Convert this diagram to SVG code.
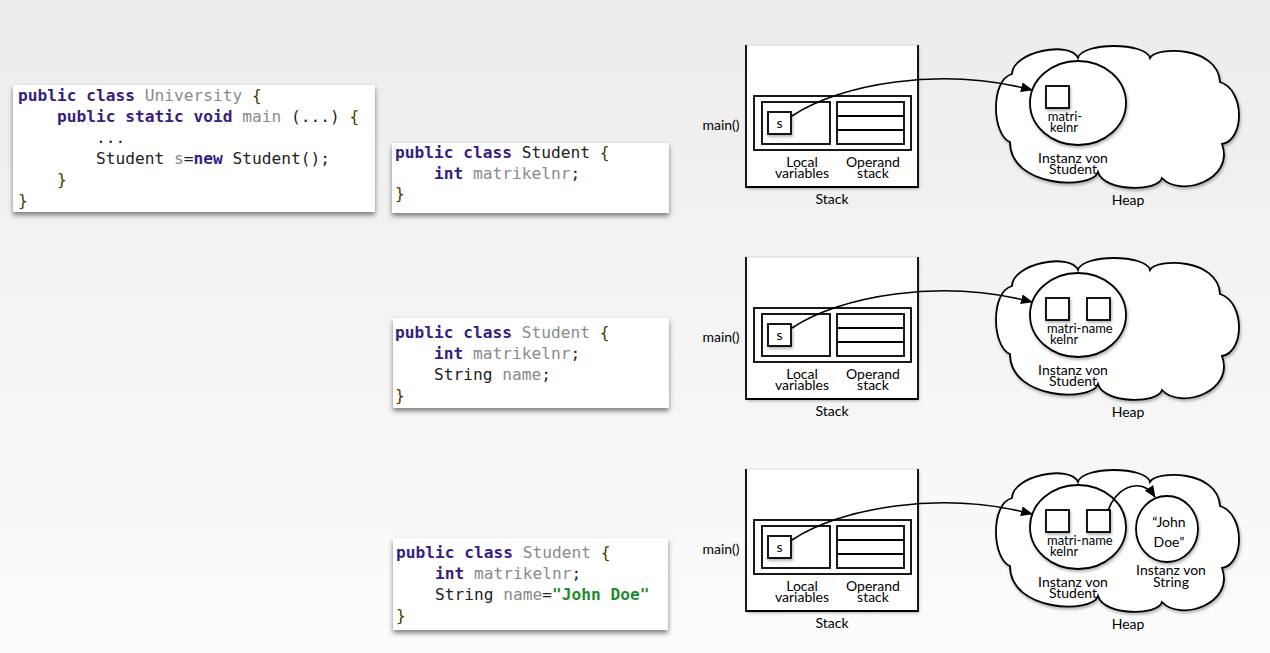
<svg xmlns="http://www.w3.org/2000/svg" xmlns:xlink="http://www.w3.org/1999/xlink" width="1270" height="653" viewBox="0 0 1270 653">
<defs>
<linearGradient id="bg" x1="0" y1="0" x2="0" y2="1">
<stop offset="0" stop-color="#ececec"/>
<stop offset="1" stop-color="#fcfcfc"/>
</linearGradient>
<filter id="csh" x="-5%" y="-10%" width="110%" height="130%">
<feDropShadow dx="0" dy="3" stdDeviation="2.5" flood-color="#000" flood-opacity="0.5"/>
</filter>
<filter id="sh" x="-10%" y="-10%" width="125%" height="130%">
<feDropShadow dx="1" dy="2" stdDeviation="1.5" flood-color="#000" flood-opacity="0.3"/>
</filter>
<marker id="ah" markerUnits="userSpaceOnUse" markerWidth="12" markerHeight="10" refX="11" refY="5" orient="auto">
<path d="M0,0 L12,5 L0,10 z" fill="#000"/>
</marker>
<path id="cloud" d="M1012,74 C1012,52 1070,40 1078,58 C1082,42 1146,42 1150,58 C1156,46 1218,46 1220,82 C1245,90 1245,140 1222,144 C1235,180 1180,198 1162,178 C1158,192 1104,192 1098,172 C1092,190 1010,188 1010,142 C992,135 990,80 1012,74 Z"/>
</defs>
<style>
.code{font-family:"DejaVu Sans Mono","Liberation Mono",monospace;font-size:16.2px;fill:#222}
.kw{font-weight:bold;fill:#36207f}
.id{fill:#8a8a8a}
.br{fill:#4a3c00}
.str{fill:#1f8a2e;font-weight:bold}
.box{fill:#fff;filter:url(#csh)}
.lbl{font-family:Lato,"Noto Sans","Liberation Sans",sans-serif;font-size:14px;fill:#000;text-anchor:middle}
.sm{font-size:13px}
.st{text-anchor:start}
.ln{fill:none;stroke:#000;stroke-width:1.8}
.wf{fill:#fff;stroke:#000;stroke-width:1.8}
.conn{fill:none;stroke:#000;stroke-width:1.6;marker-end:url(#ah)}
</style>
<rect x="0" y="0" width="1270" height="653" fill="url(#bg)"/>

<g id="code1">
<rect class="box" x="13" y="85" width="362" height="127"/>
<text class="code" x="18" y="101" xml:space="preserve"><tspan class="kw">public class </tspan><tspan class="id">University</tspan><tspan class="br"> {</tspan></text>
<text class="code" x="57" y="122" xml:space="preserve"><tspan class="kw">public static void </tspan><tspan class="id">main</tspan> (...) <tspan class="br">{</tspan></text>
<text class="code" x="96" y="143">...</text>
<text class="code" x="96" y="164" xml:space="preserve">Student <tspan class="id">s</tspan>=<tspan class="kw">new</tspan> Student();</text>
<text class="code br" x="57" y="185">}</text>
<text class="code br" x="18" y="206">}</text>
</g>

<g id="code2">
<rect class="box" x="392" y="143" width="277" height="70"/>
<text class="code" x="395" y="158" xml:space="preserve"><tspan class="kw">public class </tspan>Student<tspan class="br"> {</tspan></text>
<text class="code" x="434" y="179" xml:space="preserve"><tspan class="kw">int </tspan><tspan class="id">matrikelnr</tspan>;</text>
<text class="code br" x="395" y="199">}</text>
</g>

<g id="code3">
<rect class="box" x="393" y="318" width="276" height="90"/>
<text class="code" x="395" y="338" xml:space="preserve"><tspan class="kw">public class </tspan><tspan class="id">Student</tspan><tspan class="br"> {</tspan></text>
<text class="code" x="434" y="359" xml:space="preserve"><tspan class="kw">int </tspan><tspan class="id">matrikelnr</tspan>;</text>
<text class="code" x="434" y="380" xml:space="preserve">String <tspan class="id">name</tspan>;</text>
<text class="code br" x="395" y="401">}</text>
</g>

<g id="code4">
<rect class="box" x="393" y="538" width="275" height="92"/>
<text class="code" x="396" y="558" xml:space="preserve"><tspan class="kw">public class </tspan><tspan class="id">Student</tspan><tspan class="br"> {</tspan></text>
<text class="code" x="435" y="579" xml:space="preserve"><tspan class="kw">int </tspan><tspan class="id">matrikelnr</tspan>;</text>
<text class="code" x="435" y="600" xml:space="preserve">String <tspan class="id">name</tspan>=<tspan class="str">"John Doe"</tspan></text>
<text class="code br" x="396" y="621">}</text>
</g>

<g id="stack1">
<rect x="746" y="45" width="172" height="142" fill="#fff" filter="url(#sh)"/>
<line x1="746" y1="45" x2="918" y2="45" stroke="#d8d8d8" stroke-width="1"/>
<path class="ln" d="M746,45 V187 H918 V45"/>
<rect class="wf" x="754" y="96" width="157" height="54"/>
<rect class="wf" x="762" y="102" width="68" height="42"/>
<rect class="wf" x="837" y="102" width="67" height="42"/>
<path class="ln" d="M837,116 H904 M837,130 H904"/>
<rect class="wf" x="768" y="112" width="23" height="22" filter="url(#sh)"/>
<text class="lbl" x="779.5" y="128" font-size="11">s</text>
<text class="lbl" x="721" y="130">main()</text>
<text class="lbl" x="802" y="166.5">Local<tspan x="802" dy="11.5">variables</tspan></text>
<text class="lbl" x="873" y="166.5">Operand<tspan x="873" dy="11.5">stack</tspan></text>
<text class="lbl" x="832" y="204">Stack</text>
</g>

<g id="stack2" transform="translate(0,212)">
<rect x="746" y="45" width="172" height="142" fill="#fff" filter="url(#sh)"/>
<line x1="746" y1="45" x2="918" y2="45" stroke="#d8d8d8" stroke-width="1"/>
<path class="ln" d="M746,45 V187 H918 V45"/>
<rect class="wf" x="754" y="96" width="157" height="54"/>
<rect class="wf" x="762" y="102" width="68" height="42"/>
<rect class="wf" x="837" y="102" width="67" height="42"/>
<path class="ln" d="M837,116 H904 M837,130 H904"/>
<rect class="wf" x="768" y="112" width="23" height="22" filter="url(#sh)"/>
<text class="lbl" x="779.5" y="128" font-size="11">s</text>
<text class="lbl" x="721" y="130">main()</text>
<text class="lbl" x="802" y="166.5">Local<tspan x="802" dy="11.5">variables</tspan></text>
<text class="lbl" x="873" y="166.5">Operand<tspan x="873" dy="11.5">stack</tspan></text>
<text class="lbl" x="832" y="204">Stack</text>
</g>

<g id="stack3" transform="translate(0,424)">
<rect x="746" y="45" width="172" height="142" fill="#fff" filter="url(#sh)"/>
<line x1="746" y1="45" x2="918" y2="45" stroke="#d8d8d8" stroke-width="1"/>
<path class="ln" d="M746,45 V187 H918 V45"/>
<rect class="wf" x="754" y="96" width="157" height="54"/>
<rect class="wf" x="762" y="102" width="68" height="42"/>
<rect class="wf" x="837" y="102" width="67" height="42"/>
<path class="ln" d="M837,116 H904 M837,130 H904"/>
<rect class="wf" x="768" y="112" width="23" height="22" filter="url(#sh)"/>
<text class="lbl" x="779.5" y="128" font-size="11">s</text>
<text class="lbl" x="721" y="130">main()</text>
<text class="lbl" x="802" y="166.5">Local<tspan x="802" dy="11.5">variables</tspan></text>
<text class="lbl" x="873" y="166.5">Operand<tspan x="873" dy="11.5">stack</tspan></text>
<text class="lbl" x="832" y="204">Stack</text>
</g>

<g id="heap1">
<use xlink:href="#cloud" class="wf" filter="url(#sh)"/>
<ellipse class="wf" cx="1078" cy="103" rx="48" ry="42" filter="url(#sh)"/>
<rect class="wf" x="1046" y="86" width="23" height="22" filter="url(#sh)"/>
<text class="lbl sm" x="1065" y="121">matri-<tspan x="1064" dy="10.5">kelnr</tspan></text>
<text class="lbl" x="1073" y="162.5">Instanz von<tspan x="1073" dy="11.5">Student</tspan></text>
<text class="lbl" x="1128" y="205">Heap</text>
</g>

<g id="heap2" transform="translate(0,212)">
<use xlink:href="#cloud" class="wf" filter="url(#sh)"/>
<ellipse class="wf" cx="1078" cy="103" rx="48" ry="42" filter="url(#sh)"/>
<rect class="wf" x="1046" y="86" width="23" height="22" filter="url(#sh)"/>
<rect class="wf" x="1087" y="86" width="23" height="22" filter="url(#sh)"/>
<text class="lbl sm st" x="1047" y="121">matri-name<tspan x="1050" dy="10.5">kelnr</tspan></text>
<text class="lbl" x="1073" y="162.5">Instanz von<tspan x="1073" dy="11.5">Student</tspan></text>
<text class="lbl" x="1128" y="205">Heap</text>
</g>

<g id="heap3" transform="translate(0,424)">
<use xlink:href="#cloud" class="wf" filter="url(#sh)"/>
<ellipse class="wf" cx="1078" cy="103" rx="48" ry="42" filter="url(#sh)"/>
<rect class="wf" x="1046" y="86" width="23" height="22" filter="url(#sh)"/>
<rect class="wf" x="1087" y="86" width="23" height="22" filter="url(#sh)"/>
<text class="lbl sm st" x="1047" y="121">matri-name<tspan x="1050" dy="10.5">kelnr</tspan></text>
<text class="lbl" x="1073" y="162.5">Instanz von<tspan x="1073" dy="11.5">Student</tspan></text>
<text class="lbl" x="1128" y="205">Heap</text>
</g>

<g id="string3">
<ellipse class="wf" cx="1167" cy="529" rx="31" ry="33" filter="url(#sh)"/>
<text class="lbl" x="1169" y="527">“John<tspan x="1169" dy="20">Doe”</tspan></text>
<text class="lbl" x="1171" y="575">Instanz von<tspan x="1171" dy="11.5">String</tspan></text>
</g>

<g id="connectors">
<path class="conn" d="M792,116 C840,84 940,66 1032,90"/>
<path class="conn" d="M792,328 C840,296 940,278 1032,302"/>
<path class="conn" d="M792,540 C840,508 940,490 1032,514"/>
<path class="conn" d="M1108,511 C1114,490 1140,474 1155,497"/>
</g>
</svg>
